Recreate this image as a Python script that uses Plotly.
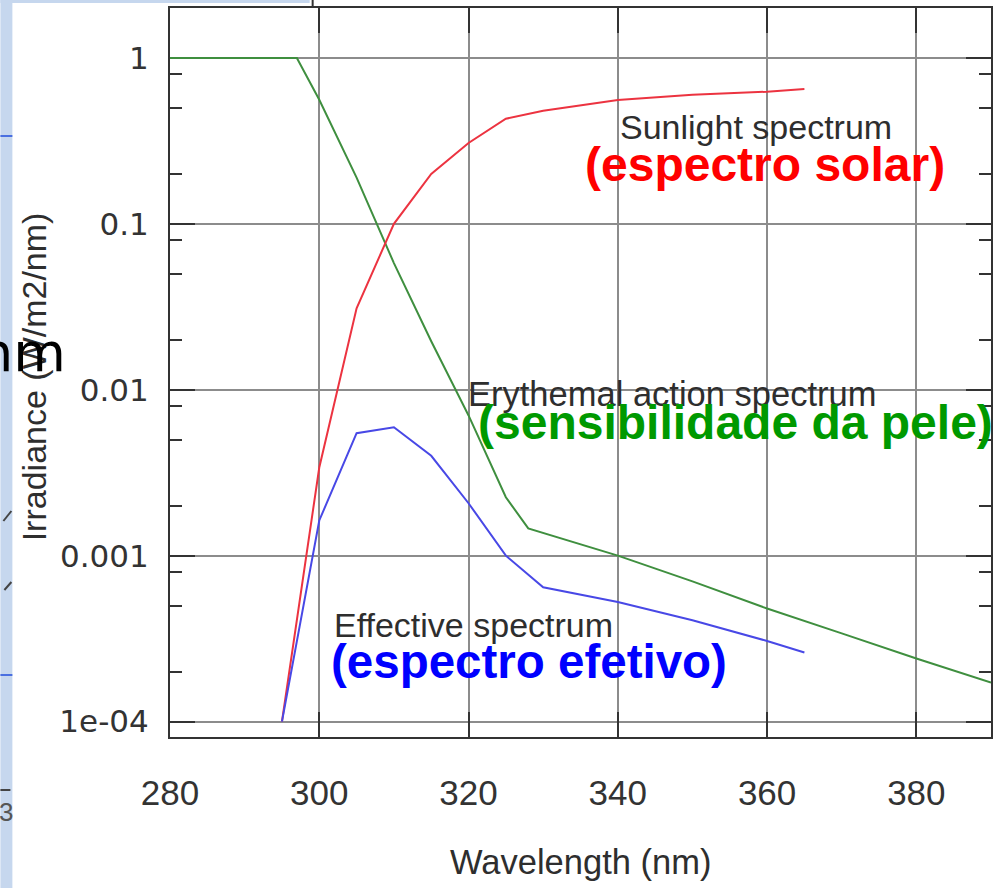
import plotly.graph_objects as go

# ---- data ----
wl_sun = [295, 300, 305, 310, 315, 320, 325, 330, 340, 350, 360, 365]
irr_sun = [1e-4, 0.0034, 0.031, 0.1, 0.2, 0.307, 0.43, 0.48, 0.558, 0.6, 0.626, 0.65]

wl_ery = [280, 297, 300, 305, 310, 315, 320, 325, 328, 330, 340, 350, 360, 370, 380, 390]
irr_ery = [1.0, 1.0, 0.56, 0.19, 0.058, 0.0196, 0.007, 0.00225, 0.00146, 0.00137,
           0.001, 0.0007, 0.00048, 0.00034, 0.00024, 0.000172]

wl_eff = [295, 300, 305, 310, 315, 320, 325, 330, 340, 350, 360, 365]
irr_eff = [1e-4, 0.00163, 0.00547, 0.00594, 0.0040, 0.00207, 0.001, 0.000645,
           0.000526, 0.000408, 0.000306, 0.000261]

x_ticks = [280, 300, 320, 340, 360, 380]
y_ticks = [1e-4, 1e-3, 1e-2, 1e-1, 1]
y_tick_text = ["1e-04", "0.001", "0.01", "0.1", "1"]
y_minor = [0.8, 0.5, 0.2, 0.08, 0.05, 0.02, 0.008, 0.005, 0.002, 0.0008, 0.0005, 0.0002]

# ---- layout geometry ----
W, H = 998, 888
L, R, T, B = 170, 5, 8, 151
PW, PH = W - L - R, H - T - B


def px(xp):
    return (xp - L) / PW


def py(yp):
    return (H - B - yp) / PH


fig = go.Figure()
fig.add_trace(go.Scatter(x=wl_ery, y=irr_ery, mode="lines",
                         line=dict(color="#3f8f3f", width=2), name="Erythemal"))
fig.add_trace(go.Scatter(x=wl_sun, y=irr_sun, mode="lines",
                         line=dict(color="#ec3340", width=2), name="Sunlight"))
fig.add_trace(go.Scatter(x=wl_eff, y=irr_eff, mode="lines",
                         line=dict(color="#4848e6", width=2), name="Effective"))

axis_common = dict(showline=True, linecolor="#333333", linewidth=2, mirror="ticks",
                   ticks="inside", ticklen=25, tickwidth=2, tickcolor="#333333",
                   showgrid=True, gridcolor="#8c8c8c", gridwidth=1.5, zeroline=False,
                   layer="below traces")

fig.update_xaxes(range=[280, 390], tickmode="array", tickvals=x_ticks,
                 tickfont=dict(family="Liberation Sans", size=35, color="#333333"),
                 ticklabelstandoff=24, **axis_common)
fig.update_yaxes(type="log", range=[-4.093, 0.301], tickmode="array", tickvals=y_ticks,
                 ticktext=y_tick_text,
                 tickfont=dict(family="DejaVu Sans", size=31, color="#333333"),
                 ticklabelstandoff=13,
                 minor=dict(tickmode="array", tickvals=y_minor, ticks="inside", ticklen=12,
                            tickwidth=2, tickcolor="#333333", showgrid=False),
                 **axis_common)

ann = []
gray = "#2e2e2e"
ann.append(dict(text="Wavelength (nm)", x=px(582), y=py(862),
                font=dict(family="Liberation Sans", size=34.5, color=gray)))
ann.append(dict(text="Irradiance (W/m2/nm)", x=px(34), y=py(377), textangle=-90,
                font=dict(family="Liberation Sans", size=34, color=gray)))
ann.append(dict(text="Sunlight spectrum", x=px(757), y=py(127),
                font=dict(family="Liberation Sans", size=34, color=gray)))
ann.append(dict(text="<b>(espectro solar)</b>", x=px(766), y=py(164),
                font=dict(family="Liberation Sans", size=48, color="#ff0000")))
ann.append(dict(text="Erythemal action spectrum", x=px(673), y=py(394),
                font=dict(family="Liberation Sans", size=34.5, color=gray)))
ann.append(dict(text="<b>(sensibilidade da pele)</b>", x=px(737), y=py(422),
                font=dict(family="Liberation Sans", size=48, color="#009900")))
ann.append(dict(text="Effective spectrum", x=px(474), y=py(625),
                font=dict(family="Liberation Sans", size=34, color=gray)))
ann.append(dict(text="<b>(espectro efetivo)</b>", x=px(530), y=py(661),
                font=dict(family="Liberation Sans", size=47.5, color="#0000ff")))
# fragments of the slide behind the chart
ann.append(dict(text="nm", x=px(68), y=py(352), xanchor="right",
                font=dict(family="DejaVu Sans", size=54, color="#000000")))
ann.append(dict(text="3", x=px(6), y=py(812),
                font=dict(family="Liberation Sans", size=26, color="#555555")))
for a in ann:
    a.setdefault("xref", "paper")
    a.setdefault("yref", "paper")
    a.setdefault("showarrow", False)
    a.setdefault("xanchor", "center")
    a.setdefault("yanchor", "middle")

shapes = [
    dict(type="rect", xref="paper", yref="paper", x0=px(0), x1=px(12), y0=py(888), y1=py(0),
         fillcolor="#c6d7ee", line=dict(width=0), layer="below"),
    dict(type="rect", xref="paper", yref="paper", x0=px(0), x1=px(310), y0=py(3), y1=py(0),
         fillcolor="#c6d7ee", line=dict(width=0), layer="below"),
    dict(type="line", xref="paper", yref="paper", x0=px(0), x1=px(12), y0=py(136), y1=py(136),
         line=dict(color="#4a6fe0", width=2)),
    dict(type="line", xref="paper", yref="paper", x0=px(0), x1=px(12), y0=py(675), y1=py(675),
         line=dict(color="#4a6fe0", width=2)),
    dict(type="line", xref="paper", yref="paper", x0=px(0), x1=px(10), y0=py(790), y1=py(790),
         line=dict(color="#444444", width=2)),
    dict(type="line", xref="paper", yref="paper", x0=px(3), x1=px(11), y0=py(521), y1=py(511),
         line=dict(color="#444444", width=2)),
    dict(type="line", xref="paper", yref="paper", x0=px(4), x1=px(11), y0=py(590), y1=py(582),
         line=dict(color="#444444", width=2)),
    dict(type="line", xref="paper", yref="paper", x0=px(313), x1=px(313), y0=py(8), y1=py(0),
         line=dict(color="#333333", width=2)),
]

fig.update_layout(width=W, height=H, autosize=False,
                  margin=dict(l=L, r=R, t=T, b=B, pad=0),
                  paper_bgcolor="white", plot_bgcolor="white",
                  showlegend=False, annotations=ann, shapes=shapes)

fig.write_html("out.html")
